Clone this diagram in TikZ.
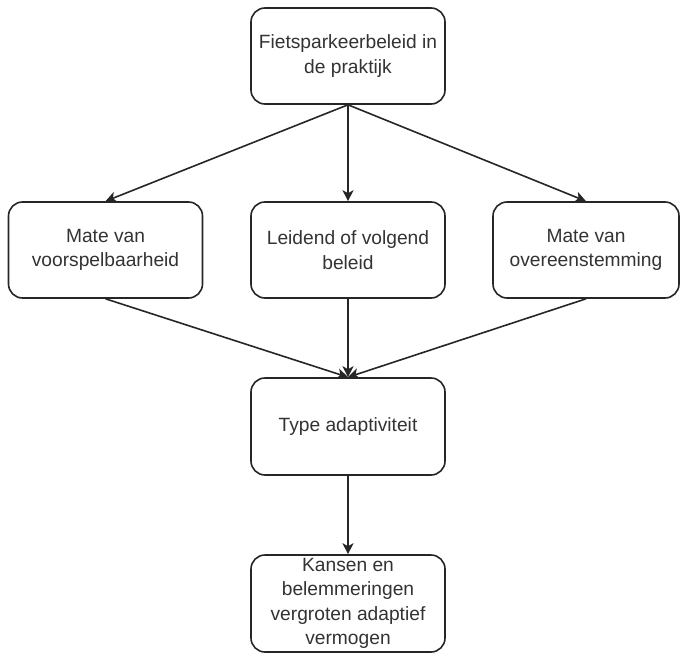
\documentclass[tikz,border=0pt]{standalone}
\usepackage{fontspec}
\setmainfont{Liberation Sans}
\usetikzlibrary{arrows.meta}
\begin{document}
\begin{tikzpicture}[x=1pt,y=-1pt,
  box/.style={draw=black!85, line width=1.6pt, rounded corners=14pt, fill=white,
    align=center, inner sep=0pt, minimum width=194pt, minimum height=96pt,
    font=\fontsize{19.2}{24.5}\selectfont, text=black!80},
  arr/.style={line width=1.6pt, draw=black!85,
    -{Stealth[length=11pt,width=11pt,inset=3pt]}}]
\useasboundingbox (0,0) rectangle (680,653);
\node[box] (top) at (348,56) {Fietsparkeerbeleid in\\de praktijk};
\node[box] (left) at (105.5,250) {Mate van\\voorspelbaarheid};
\node[box] (mid) at (348,250) {Leidend of volgend\\beleid};
\node[box, minimum width=186pt] (right) at (586,250) {Mate van\\overeenstemming};
\node[box, minimum height=97pt] (type) at (348,426.5) {Type adaptiviteit};
\node[box, minimum height=97pt] (bot) at (348,603.5) {Kansen en\\belemmeringen\\vergroten adaptief\\vermogen};
\draw[arr] (top.south) -- (left.north);
\draw[arr] (top.south) -- (mid.north);
\draw[arr] (top.south) -- (right.north);
\draw[arr] (left.south) -- (type.north);
\draw[arr] (mid.south) -- (type.north);
\draw[arr] (right.south) -- (type.north);
\draw[arr] (type.south) -- (bot.north);
\end{tikzpicture}
\end{document}
